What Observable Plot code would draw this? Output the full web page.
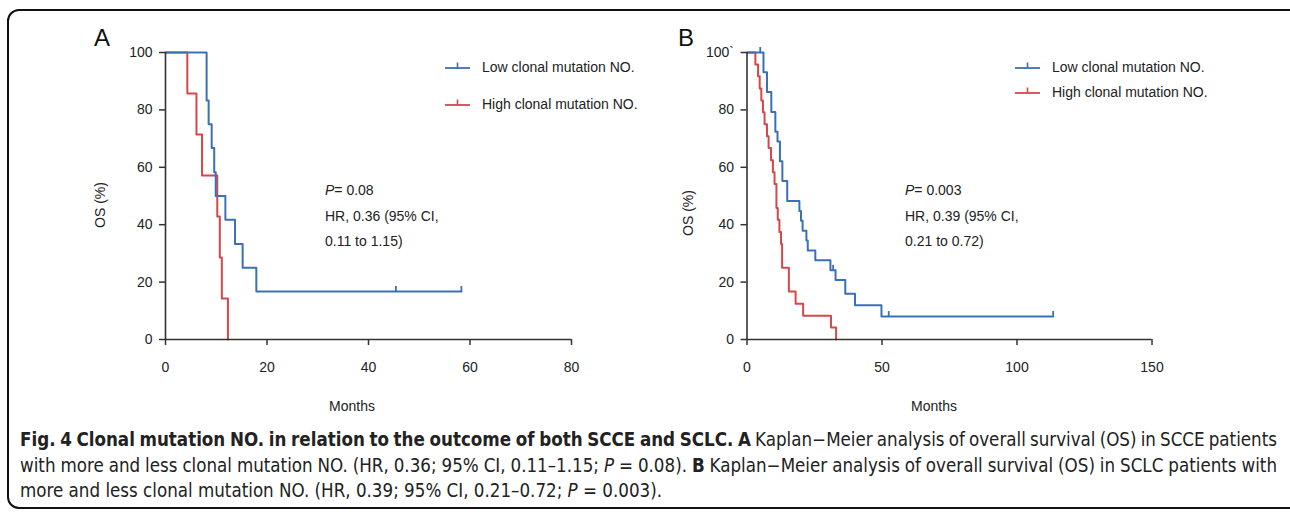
<!DOCTYPE html>
<html>
<head>
<meta charset="utf-8">
<script src="https://cdn.jsdelivr.net/npm/d3@7"></script>
<script src="https://cdn.jsdelivr.net/npm/@observablehq/plot@0.6"></script>
<style>
  html, body { margin: 0; padding: 0; background: #fff; }
  body { width: 1290px; height: 519px; overflow: hidden; position: relative; font-family: "Liberation Sans", Arial, sans-serif; color: #222; }
  .abs { position: absolute; }
  .frame { position: absolute; left: 7px; top: 9px; width: 1300px; height: 500px; border: 2px solid #111; border-radius: 12px; box-sizing: border-box; }
  .letter { font-size: 24px; color: #111; line-height: 1; }
  .lab { font-size: 14px; color: #222; white-space: nowrap; line-height: 1; }
  .note { font-size: 14px; color: #222; line-height: 25.5px; white-space: nowrap; }
  .leg { font-size: 14px; color: #222; white-space: nowrap; display: flex; align-items: center; line-height: 1; }
  .leg svg { margin-right: 12px; }
  .caption { position: absolute; left: 20px; top: 427px; width: 1257px; font-family: "Liberation Sans Narrow", "DejaVu Sans Condensed", "Roboto Condensed", sans-serif; font-size: 18.6px; color: #222; }
  .caption div { height: 25.5px; line-height: 25.5px; white-space: nowrap; }
  .caption span { white-space: nowrap; }
</style>
</head>
<body>
<div class="frame"></div>
<div id="chartA" class="abs" style="left:0;top:0"></div>
<div id="chartB" class="abs" style="left:640px;top:0"></div>
<script>
// ---------------- Data ----------------
const blue = "#3b70b4";
const red = "#d5484a";

// Panel A – SCCE
const aLowTimes = [0, 8.1, 8.5, 9.1, 9.6, 9.9, 11.8, 13.7, 15.2, 17.9, 58.3];
const aLowSurv  = [100, 83.3, 75.0, 66.7, 58.3, 50.0, 41.7, 33.3, 25.0, 16.7, 16.7];
const aLowCensorTimes = [45.4, 58.3];
const aLowCensorSurv  = [16.7, 16.7];

const aHighTimes = [0, 4.3, 6.1, 7.2, 10.2, 10.7, 11.1, 12.3];
const aHighSurv  = [100, 85.7, 71.4, 57.1, 42.9, 28.6, 14.3, 0];

// Panel B – SCLC
const bLowTimes = [0, 6.1, 7.4, 9.0, 10.5, 11.3, 12.2, 13.1, 14.9, 19.4, 20.0, 20.6, 22.0, 22.5, 25.3, 30.9, 32.8, 36.4, 40.0, 49.8, 113.4];
const bLowSurv  = [100, 93.1, 86.2, 79.3, 72.4, 69.0, 62.1, 55.2, 48.3, 44.8, 41.4, 37.9, 34.5, 31.0, 27.6, 24.1, 20.7, 15.9, 11.9, 8.0, 8.0];
const bLowCensorTimes = [4.9, 31.9, 52.5, 113.4];
const bLowCensorSurv  = [100, 24.1, 8.0, 8.0];

const bHighTimes = [0, 3.1, 4.1, 4.7, 5.3, 5.9, 6.5, 7.4, 8.0, 8.9, 9.6, 10.2, 10.9, 11.4, 12.0, 12.6, 13.0, 15.5, 18.0, 20.8, 31.1, 33.0];
const bHighSurv  = [100, 95.8, 91.7, 87.5, 83.3, 79.2, 75.0, 70.8, 66.7, 62.5, 58.3, 54.2, 45.8, 41.7, 37.5, 33.3, 25.0, 16.7, 12.5, 8.3, 4.2, 0];

const aXTicks = [0, 20, 40, 60, 80];
const bXTicks = [0, 50, 100, 150];
const yTicks = [0, 20, 40, 60, 80, 100];

const legendLabels = ["Low clonal mutation NO.", "High clonal mutation NO."];
const statsA = ["= 0.08", "HR, 0.36 (95% CI,", "0.11 to 1.15)"];
const statsB = ["= 0.003", "HR, 0.39 (95% CI,", "0.21 to 0.72)"];

// ---------------- helpers ----------------
const zip = (ts, ss) => ts.map((t, i) => ({t, s: ss[i]}));
const censorSymbol = { draw(ctx) { ctx.moveTo(0, 0); ctx.lineTo(0, -5.5); } };

function kmPlot({width, marginLeft, marginRight, xDomain, xTicks, series, censors, yFormat}) {
  const marks = [];
  for (const sr of series) {
    marks.push(Plot.line(sr.data, {x: "t", y: "s", curve: "step-after", stroke: sr.color, strokeWidth: 2}));
  }
  for (const c of censors) {
    marks.push(Plot.dot(c.data, {x: "t", y: "s", symbol: censorSymbol, stroke: c.color, strokeWidth: 1.8, fill: "none", r: 3}));
  }
  marks.push(
    Plot.ruleX([0], {y1: 0, y2: 100, stroke: "#333", strokeWidth: 1.6}),
    Plot.ruleY([0], {x1: 0, x2: xDomain[1], stroke: "#333", strokeWidth: 1.6}),
    Plot.axisX({ticks: xTicks, tickSize: 6, tickPadding: 17, fontSize: 14, stroke: "#333", strokeWidth: 1.5, color: "#222", label: null}),
    Plot.axisY({ticks: yTicks, tickSize: 6, tickPadding: 7, fontSize: 14, stroke: "#333", strokeWidth: 1.5, color: "#222", label: null, tickFormat: yFormat})
  );
  return Plot.plot({
    width, height: 420,
    marginLeft, marginRight, marginTop: 52, marginBottom: 81,
    x: {domain: xDomain},
    y: {domain: [0, 100]},
    style: {fontFamily: "Liberation Sans, Arial, sans-serif", background: "transparent", overflow: "visible", color: "#222"},
    marks
  });
}

document.getElementById("chartA").appendChild(kmPlot({
  width: 640, marginLeft: 165, marginRight: 69, xDomain: [0, 80], xTicks: aXTicks,
  series: [
    {data: zip(aHighTimes, aHighSurv), color: red},
    {data: zip(aLowTimes, aLowSurv), color: blue}
  ],
  censors: [{data: zip(aLowCensorTimes, aLowCensorSurv), color: blue}],
  yFormat: d => String(d)
}));

document.getElementById("chartB").appendChild(kmPlot({
  width: 650, marginLeft: 106.5, marginRight: 138.5, xDomain: [0, 150], xTicks: bXTicks,
  series: [
    {data: zip(bHighTimes, bHighSurv), color: red},
    {data: zip(bLowTimes, bLowSurv), color: blue}
  ],
  censors: [{data: zip(bLowCensorTimes, bLowCensorSurv), color: blue}],
  yFormat: d => d === 100 ? "100`" : String(d)
}));

// ---------------- text / legends ----------------
function addDiv(html, cls, style) {
  const d = document.createElement("div");
  d.className = "abs " + cls;
  d.innerHTML = html;
  Object.assign(d.style, style);
  document.body.appendChild(d);
  return d;
}
function swatch(color) {
  return `<svg width="25" height="10" style="overflow:visible"><line x1="0" y1="6" x2="25" y2="6" stroke="${color}" stroke-width="1.8"/><line x1="12.5" y1="6" x2="12.5" y2="0.5" stroke="${color}" stroke-width="1.6"/></svg>`;
}

addDiv("A", "letter", {left: "94px", top: "26px"});
addDiv("B", "letter", {left: "678px", top: "26px"});

// legends
addDiv(swatch(blue) + legendLabels[0], "leg", {left: "445px", top: "60px"});
addDiv(swatch(red) + legendLabels[1], "leg", {left: "445px", top: "97px"});
addDiv(swatch(blue) + legendLabels[0], "leg", {left: "1015px", top: "60px"});
addDiv(swatch(red) + legendLabels[1], "leg", {left: "1015px", top: "85px"});

// stats
addDiv(`<div><i>P</i>${statsA[0]}</div><div>${statsA[1]}</div><div>${statsA[2]}</div>`, "note", {left: "325px", top: "178px"});
addDiv(`<div><i>P</i>${statsB[0]}</div><div>${statsB[1]}</div><div>${statsB[2]}</div>`, "note", {left: "905px", top: "178px"});

// axis titles
addDiv("Months", "lab", {left: "352px", top: "399px", transform: "translateX(-50%)"});
addDiv("Months", "lab", {left: "934px", top: "399px", transform: "translateX(-50%)"});
addDiv("OS (%)", "lab", {left: "100px", top: "205px", transform: "translate(-50%,-50%) rotate(-90deg)"});
addDiv("OS (%)", "lab", {left: "688px", top: "213px", transform: "translate(-50%,-50%) rotate(-90deg)"});

// caption
const capLines = [
  `<b>Fig. 4 Clonal mutation NO. in relation to the outcome of both SCCE and SCLC. A</b> Kaplan−Meier analysis of overall survival (OS) in SCCE patients`,
  `with more and less clonal mutation NO. (HR, 0.36; 95% CI, 0.11–1.15; <i>P</i> = 0.08). <b>B</b> Kaplan−Meier analysis of overall survival (OS) in SCLC patients with`,
  `more and less clonal mutation NO. (HR, 0.39; 95% CI, 0.21–0.72; <i>P</i> = 0.003).`
];
const cap = document.createElement("div");
cap.className = "caption";
document.body.appendChild(cap);
capLines.forEach((html, i) => {
  const line = document.createElement("div");
  const span = document.createElement("span");
  span.innerHTML = html;
  line.appendChild(span);
  cap.appendChild(line);
  if (i < 2) {
    const natural = span.getBoundingClientRect().width;
    const spaces = (span.textContent.match(/ /g) || []).length;
    span.style.wordSpacing = ((1257 - natural) / spaces) + "px";
  }
});
</script>
</body>
</html>
